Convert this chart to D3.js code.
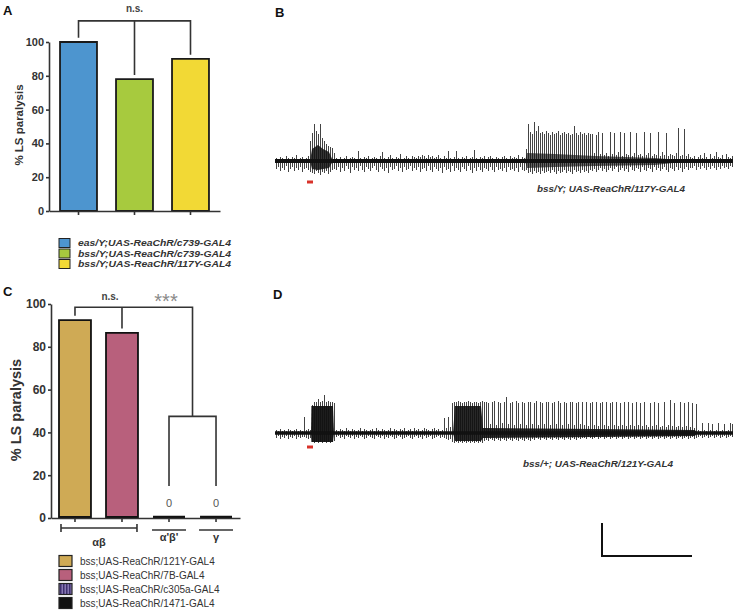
<!DOCTYPE html>
<html><head><meta charset="utf-8">
<script src="https://cdn.jsdelivr.net/npm/d3@7"></script>
<style>body{margin:0;background:#fff}svg{display:block}text{font-family:"Liberation Sans",Arial,sans-serif}</style>
</head><body><svg id="c" width="739" height="615"></svg>
<script>
// ---------- Panel A data ----------
const catsA = ["eas/Y;UAS-ReaChR/c739-GAL4","bss/Y;UAS-ReaChR/c739-GAL4","bss/Y;UAS-ReaChR/117Y-GAL4"];
const valsA = [100, 78, 90];
const colorsA = ["#4d95cf","#a7ca3e","#f2d935"];
const ticksA = [0,20,40,60,80,100];
const bracketA = {level: 112.5, gap: 2.5, label: "n.s."};

// ---------- Panel C data ----------
const catsC = ["bss;UAS-ReaChR/121Y-GAL4","bss;UAS-ReaChR/7B-GAL4","bss;UAS-ReaChR/c305a-GAL4","bss;UAS-ReaChR/1471-GAL4"];
const valsC = [92, 86, 0, 0];
const colorsC = ["#cfaa55","#b8607c","url(#stripes)","#111111"];
const ticksC = [0,20,40,60,80,100];
const groupsC = [{label:"\u03b1\u03b2", from:0, to:1, caps:true},{label:"\u03b1'\u03b2'", from:2, to:2, caps:false},{label:"\u03b3", from:3, to:3, caps:false}];
const bracketC = {level: 98.5, gap: 2.5, lowLevel: 47.5, lowEnd: 15, labelNs: "n.s.", labelSig: "***"};

// ---------- Traces (min/max per 0.5 s bin, arbitrary amplitude units) ----------
const binSec = 0.5;
const traceDomain = [0, 114.5];
const B_hi = [
3,2,4,3,2,5,3,2,4,3,6,2,3,4,2,3,5,
20,28,37,30,27,37,23,20,17,15,14,13,8,
3,2,4,2,3,5,2,3,4,3,
2,10,3,2,4,3,5,2,3,4,
3,2,5,9,3,2,4,6,3,2,
4,3,7,2,3,5,3,2,5,4,
3,5,4,6,5,3,6,4,5,3,
4,6,3,2,5,3,10,3,2,4,
10,3,2,4,3,5,2,3,4,11,
3,2,4,3,5,2,4,5,3,2,
4,3,2,4,5,3,2,5,3,4,
3,6,2,4,3,
12,37,29,27,39,30,35,28,29,27,
30,28,26,29,27,28,30,26,28,29,
27,28,26,27,35,28,26,29,27,28,
26,28,27,
27,8,26,29,7,28,6,8,5,29,
7,28,6,9,29,5,28,7,6,29,
5,8,28,6,7,5,29,6,8,28,
5,7,6,29,5,9,6,28,5,7,
6,5,8,33,5,6,32,5,7,4,
3,5,2,4,6,3,8,4,2,7,3,5,9,4,3,6,2,7,4,3,5];
const B_lo = [
-8,-6,-10,-7,-9,-5,-11,-8,-6,-10,-7,-9,-6,-11,-8,-7,-9,
-11,-12,-13,-10,-12,-14,-11,-12,-10,-13,-11,-9,-8,
-9,-6,-11,-7,-10,-5,-8,-12,-6,-9,
-7,-10,-5,-9,-11,-6,-8,-10,-7,-5,
-9,-11,-6,-8,-10,-7,-12,-6,-9,-8,
-5,-10,-7,-11,-6,-9,-8,-5,-10,-7,
-9,-6,-11,-8,-7,-10,-5,-9,-11,-6,
-8,-10,-7,-12,-6,-9,-8,-11,-5,-10,
-7,-9,-11,-6,-8,-10,-5,-9,-12,-7,
-10,-6,-9,-11,-7,-8,-10,-6,-9,-11,
-6,-9,-8,-10,-7,-11,-6,-9,-8,-10,
-7,-11,-6,-9,-10,
-9,-12,-11,-13,-10,-12,-11,-13,-10,-12,
-11,-10,-12,-9,-11,-13,-10,-12,-11,-9,
-12,-10,-11,-13,-9,-11,-10,-12,-9,-11,
-10,-12,-9,
-10,-8,-11,-9,-7,-10,-8,-11,-9,-7,
-10,-8,-6,-11,-9,-7,-10,-8,-11,-6,
-9,-10,-7,-8,-11,-6,-9,-10,-7,-8,
-11,-6,-9,-7,-10,-8,-6,-9,-11,-7,
-8,-10,-6,-9,-7,-11,-8,-6,-9,-7,
-7,-5,-9,-6,-8,-5,-7,-9,-6,-8,-5,-7,-9,-6,-8,-5,-7,-6,-8,-5,-6];
const B_core = [
  [[8.75,0,0],[9.25,12,-8],[10.75,16,-9],[12,12,-8],[13.5,9,-7],[14.5,0,0]],
  [[62.5,0,0],[63,8,-7],[70,7,-6],[80,5,-5],[95,3,-4],[104,0,0]]
];
const B_coreOpacity = [0.85, 0.65];
const D_hi = [
3,2,4,2,3,2,4,3,2,3,4,2,3,2,
16,3,4,3,
28,31,31,34,31,32,38,31,32,31,31,30,
3,2,4,3,2,5,3,2,4,3,
2,3,5,2,4,3,2,3,4,2,
5,3,2,4,3,2,3,5,2,4,
3,2,4,3,5,2,3,4,2,5,
3,4,2,3,5,4,3,2,4,5,
3,4,2,3,
15,5,16,6,
30,31,31,32,31,30,31,31,32,31,30,31,31,30,31,32,31,
31,30,9,31,32,8,31,30,10,31,
36,9,30,31,8,32,30,9,31,30,
8,31,31,9,30,32,8,31,30,9,
31,31,8,30,31,9,32,30,8,31,
30,9,31,31,8,30,31,9,31,
8,31,7,30,31,8,31,7,30,31,
8,31,7,30,31,8,31,7,30,8,
31,7,31,8,30,7,31,8,30,7,
31,8,6,30,7,31,8,30,6,7,
31,6,8,33,7,30,6,7,31,6,
30,7,31,6,30,5,29,
3,2,10,3,2,10,3,9,2,3,10,2,3,9,2,3,10,9];
const D_lo = [
-5,-3,-6,-4,-5,-3,-6,-4,-5,-3,-6,-4,-5,-4,-4,-5,-6,-5,
-9,-10,-9,-10,-9,-10,-9,-10,-9,-10,-9,-8,
-4,-3,-5,-4,-6,-3,-4,-5,-3,-6,
-4,-5,-3,-4,-6,-5,-3,-4,-5,-6,
-3,-4,-5,-3,-6,-4,-5,-3,-4,-6,
-5,-3,-4,-6,-5,-4,-3,-5,-6,-4,
-3,-5,-4,-6,-3,-5,-4,-3,-6,-5,
-4,-3,-5,-4,
-5,-6,-7,-6,
-9,-10,-9,-10,-9,-10,-9,-10,-9,-10,-9,-10,-9,-10,-9,-10,-8,
-7,-8,-6,-7,-8,-6,-7,-8,-6,-7,
-8,-6,-7,-8,-6,-7,-8,-6,-7,-8,
-6,-7,-8,-6,-7,-5,-6,-7,-5,-6,
-7,-5,-6,-7,-5,-6,-7,-5,-6,-7,
-5,-6,-7,-5,-6,-7,-5,-6,-5,
-5,-6,-4,-5,-6,-5,-4,-6,-5,-4,
-6,-5,-4,-6,-5,-4,-6,-5,-4,-6,
-5,-4,-6,-5,-4,-6,-5,-4,-6,-5,
-4,-6,-5,-4,-6,-5,-4,-6,-5,-4,
-6,-5,-4,-6,-5,-4,-6,-5,-4,-6,
-5,-4,-6,-5,-4,-6,-5,
-4,-3,-5,-4,-3,-5,-4,-3,-5,-4,-3,-5,-4,-3,-5,-4,-3,-4];
const D_core = [
  [[9,0,0],[9.1,27,-9],[14.5,27,-9],[14.75,0,0]],
  [[44.5,0,0],[45,27,-8],[51.5,27,-8],[52,5,-5],[80,4,-4],[105,3,-3],[105.5,0,0]]
];
const D_coreOpacity = [0.95, 0.9];
const stimB = [8, 9.5], stimD = [8, 9.5];
const captionB = "bss/Y; UAS-ReaChR/117Y-GAL4";
const captionD = "bss/+; UAS-ReaChR/121Y-GAL4";
const scaleBar = {time: 22.5, amp: 33};

// ---------- drawing ----------
const svg = d3.select("#c");
const defs = svg.append("defs");
const pat = defs.append("pattern").attr("id","stripes").attr("patternUnits","userSpaceOnUse").attr("width",3).attr("height",3);
pat.append("rect").attr("width",3).attr("height",3).attr("fill","#8677b3");
pat.append("rect").attr("width",1.5).attr("height",3).attr("fill","#3e2f6e");

const ink = "#333";
function panelLabel(t,x,y){svg.append("text").attr("x",x).attr("y",y).text(t).attr("font-size",13).attr("font-weight","bold").attr("fill","#111");}
function barPath(x0,x1,y0,y1){return `M${x0},${y0}V${y1}H${x1}V${y0}Z`;}
function styleAxis(g,fs){
  g.select(".domain").attr("stroke",ink).attr("stroke-width",1.6);
  g.selectAll(".tick line").attr("stroke",ink).attr("stroke-width",1.6);
  g.selectAll(".tick text").attr("font-size",fs).attr("font-weight","bold").attr("fill",ink).attr("font-family",'"Liberation Sans",Arial,sans-serif');
}

// Panel A
panelLabel("A",3,15);
const xA = d3.scaleBand().domain(d3.range(catsA.length)).range([49,220]).paddingInner(0.34).paddingOuter(0.197);
const yA = d3.scaleLinear().domain([0,100]).range([211,42]);
svg.append("g").selectAll("path").data(valsA).join("path")
  .attr("d",(d,i)=>barPath(xA(i),xA(i)+xA.bandwidth(),yA(0),yA(d)))
  .attr("fill",(d,i)=>colorsA[i]).attr("stroke","#1a1a1a").attr("stroke-width",1.8);
const gyA = svg.append("g").attr("transform","translate(49,0)").call(d3.axisLeft(yA).tickValues(ticksA).tickSize(3).tickPadding(2).tickSizeOuter(0));
styleAxis(gyA,11);
const gxA = svg.append("g").attr("transform","translate(0,211)").call(d3.axisBottom(xA).tickSize(4).tickSizeOuter(0).tickFormat(""));
styleAxis(gxA,10);
svg.append("text").attr("transform","translate(23,125) rotate(-90)").attr("text-anchor","middle")
  .attr("font-size",11.5).attr("font-weight","bold").attr("fill",ink).text("% LS paralysis");
{
  const cx = i=>xA(i)+xA.bandwidth()/2;
  const yl = yA(bracketA.level);
  const p = d3.path();
  p.moveTo(cx(0), yA(valsA[0]+bracketA.gap)); p.lineTo(cx(0), yl); p.lineTo(cx(2), yl); p.lineTo(cx(2), yA(valsA[2]+bracketA.gap));
  p.moveTo(cx(1), yl); p.lineTo(cx(1), yA(valsA[1]+bracketA.gap));
  svg.append("path").attr("d",p.toString()).attr("fill","none").attr("stroke",ink).attr("stroke-width",1.6);
  svg.append("text").attr("x",cx(1)).attr("y",12).attr("text-anchor","middle").attr("font-size",10).attr("font-weight","bold").attr("fill","#444").text(bracketA.label);
}
catsA.forEach((c,i)=>{
  const y = 243 + i*10.5;
  svg.append("rect").attr("x",59).attr("y",y-4.5).attr("width",11).attr("height",9).attr("fill",colorsA[i]).attr("stroke","#222").attr("stroke-width",1);
  svg.append("text").attr("x",78).attr("y",y+3.3).attr("font-size",9.5).attr("font-weight","bold").attr("font-style","italic").attr("fill",ink)
    .attr("textLength",153).attr("lengthAdjust","spacingAndGlyphs").text(c);
});

// Panel C
panelLabel("C",3,296);
const xC = d3.scaleBand().domain(d3.range(catsC.length)).range([51,240]).paddingInner(0.32).paddingOuter(0.17);
const yC = d3.scaleLinear().domain([0,100]).range([518,304]);
svg.append("g").selectAll("path").data(valsC).join("path")
  .attr("d",(d,i)=>barPath(xC(i),xC(i)+xC.bandwidth(),yC(0)-1,yC(d)-1))
  .attr("fill",(d,i)=>colorsC[i]).attr("stroke","#111").attr("stroke-width",(d)=>d===0?2.6:1.8);
const gyC = svg.append("g").attr("transform","translate(51,0)").call(d3.axisLeft(yC).tickValues(ticksC).tickSize(3).tickPadding(2).tickSizeOuter(0));
styleAxis(gyC,12);
const gxC = svg.append("g").attr("transform","translate(0,518)").call(d3.axisBottom(xC).tickSize(4).tickSizeOuter(0).tickFormat(""));
styleAxis(gxC,10);
svg.append("text").attr("transform","translate(21,410) rotate(-90)").attr("text-anchor","middle")
  .attr("font-size",14.5).attr("font-weight","bold").attr("fill",ink).text("% LS paralysis");
{
  const cx = i=>xC(i)+xC.bandwidth()/2;
  const yl = yC(bracketC.level), ylow = yC(bracketC.lowLevel);
  const mid34 = (cx(2)+cx(3))/2;
  const p = d3.path();
  p.moveTo(cx(0), yC(valsC[0]+bracketC.gap)); p.lineTo(cx(0), yl); p.lineTo(mid34, yl); p.lineTo(mid34, ylow);
  p.moveTo(cx(1), yl); p.lineTo(cx(1), yC(valsC[1]+bracketC.gap));
  p.moveTo(cx(2), yC(bracketC.lowEnd)); p.lineTo(cx(2), ylow); p.lineTo(cx(3), ylow); p.lineTo(cx(3), yC(bracketC.lowEnd));
  svg.append("path").attr("d",p.toString()).attr("fill","none").attr("stroke",ink).attr("stroke-width",1.6);
  svg.append("text").attr("x",110).attr("y",300).attr("text-anchor","middle").attr("font-size",10).attr("font-weight","bold").attr("fill","#444").text(bracketC.labelNs);
  svg.append("text").attr("x",166).attr("y",308).attr("text-anchor","middle").attr("font-size",20).attr("fill","#8a8a8a").text(bracketC.labelSig);
  valsC.forEach((v,i)=>{ if(v===0) svg.append("text").attr("x",cx(i)).attr("y",507).attr("text-anchor","middle").attr("font-size",11).attr("fill","#555").text("0"); });
  groupsC.forEach(g=>{
    const x0 = g.caps ? xC(g.from)+2 : xC(g.from)-1, x1 = g.caps ? xC(g.to)+xC.bandwidth()-1 : xC(g.to)+xC.bandwidth()+1;
    const yy = g.caps ? 528 : 530;
    const q = d3.path(); q.moveTo(x0,yy); q.lineTo(x1,yy);
    if(g.caps){ q.moveTo(x0,yy-4); q.lineTo(x0,yy+4); q.moveTo(x1,yy-4); q.lineTo(x1,yy+4); }
    svg.append("path").attr("d",q.toString()).attr("stroke",ink).attr("stroke-width",1.6).attr("fill","none");
    svg.append("text").attr("x",(x0+x1)/2).attr("y",g.caps?546:541).attr("text-anchor","middle")
      .attr("font-family","'DejaVu Serif','Liberation Serif',serif").attr("font-weight","bold").attr("font-size",11).attr("fill",ink).text(g.label);
  });
}
catsC.forEach((c,i)=>{
  const y = 561 + i*14;
  svg.append("rect").attr("x",59).attr("y",y-5.5).attr("width",13).attr("height",11).attr("fill",colorsC[i]).attr("stroke","#222").attr("stroke-width",1.2);
  svg.append("text").attr("x",80).attr("y",y+3.6).attr("font-size",10).attr("fill",ink).text(c);
});

// Traces
const xT = d3.scaleLinear().domain(traceDomain).range([275,733]);
function drawTrace(hi, lo, cores, coreOp, baseY, baseW, stim, caption, capX, capY, capLen){
  const yS = d3.scaleLinear().domain([0,40]).range([baseY, baseY-40]);
  const g = svg.append("g");
  const n = Math.min(hi.length, lo.length);
  const bx = i => Math.round(xT(i*binSec+binSec/2)) + 0.5;
  g.selectAll("line.s").data(d3.range(n)).join("line").attr("class","s")
    .attr("x1",bx).attr("x2",bx)
    .attr("y1",i=>yS(lo[i])).attr("y2",i=>yS(hi[i]))
    .attr("stroke","#444").attr("stroke-width",1);
  const area = d3.area().x(d=>xT(d[0])).y0(d=>yS(d[2])).y1(d=>yS(d[1]));
  cores.forEach((c,k)=>g.append("path").attr("d",area(c)).attr("fill","#111").attr("fill-opacity",coreOp[k]));
  g.append("line").attr("x1",xT(traceDomain[0])).attr("x2",xT(traceDomain[1])).attr("y1",yS(0)).attr("y2",yS(0))
    .attr("stroke","#111").attr("stroke-width",baseW);
  g.append("line").attr("x1",xT(stim[0])).attr("x2",xT(stim[1])).attr("y1",stim.y).attr("y2",stim.y)
    .attr("stroke","#d8322a").attr("stroke-width",3);
  g.append("text").attr("x",capX).attr("y",capY).attr("font-size",9.5).attr("font-weight","bold").attr("font-style","italic").attr("fill",ink)
    .attr("textLength",capLen).attr("lengthAdjust","spacingAndGlyphs").text(caption);
  return yS;
}
panelLabel("B",275,17);
stimB.y = 182;
drawTrace(B_hi, B_lo, B_core, B_coreOpacity, 161, 4, stimB, captionB, 537, 191.5, 148);
panelLabel("D",273,299);
stimD.y = 447;
const yD = drawTrace(D_hi, D_lo, D_core, D_coreOpacity, 433, 3.5, stimD, captionD, 523, 466.5, 150);
{
  const ox = 602, oy = 556;
  const w = xT(scaleBar.time) - xT(0), h = yD(0) - yD(scaleBar.amp);
  svg.append("path").attr("d",`M${ox},${oy-h}V${oy}H${ox+w}`).attr("fill","none").attr("stroke","#111").attr("stroke-width",2);
}
</script></body></html>
